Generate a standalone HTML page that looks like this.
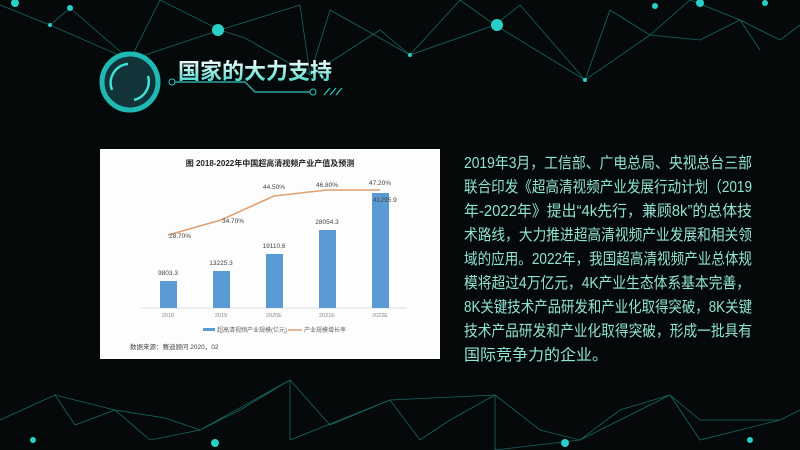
<!DOCTYPE html>
<html><head><meta charset="utf-8"><style>
html,body{margin:0;padding:0;width:800px;height:450px;overflow:hidden;background:#050808;}
</style></head><body>
<svg width="800" height="450" style="position:absolute;left:0;top:0" xmlns="http://www.w3.org/2000/svg">
<defs><linearGradient id="g" x1="0" y1="0" x2="0" y2="1"><stop offset="0" stop-color="#ffffff"/><stop offset="1" stop-color="#3fd6c8"/></linearGradient></defs>
<rect width="800" height="450" fill="#060909"/>
<g stroke="#1f8f8a" stroke-width="0.8" fill="none" opacity="0.7">
<polyline points="0,5 50,25 70,8 130,60 220,30 245,38 310,75 330,10 410,55 495,25 520,5 585,80 650,35 700,40 740,20 780,40 800,25"/>
<polyline points="50,25 130,60 160,0 220,30 300,5 310,75 380,30 410,55 460,0 495,25 585,80 610,10 650,35 690,0 740,20 760,50"/>
<polyline points="0,420 55,395 75,425 115,410 150,440 200,430 240,410 290,380 330,425 390,400 420,440 450,420 495,395 540,430 580,440 620,410 670,395 700,440 740,430 780,420 800,410"/>
<polyline points="55,395 115,410 165,418 200,430 290,380 290,440 390,400 495,395 495,450 580,440 670,395 700,420 780,420"/>
</g>
<g fill="#2ad0c8"><circle cx="218" cy="30" r="6"/><circle cx="497" cy="25" r="6"/><circle cx="70" cy="8" r="3"/><circle cx="15" cy="3" r="4"/><circle cx="655" cy="6" r="3"/><circle cx="700" cy="3" r="4"/><circle cx="765" cy="3" r="3"/><circle cx="215" cy="443" r="4"/><circle cx="565" cy="443" r="4"/><circle cx="33" cy="440" r="3"/><circle cx="750" cy="440" r="3"/><circle cx="50" cy="25" r="2"/><circle cx="130" cy="60" r="2"/><circle cx="585" cy="80" r="2"/><circle cx="410" cy="55" r="2"/></g>
<circle cx="130" cy="82" r="28" fill="#123338" stroke="#1fb8b3" stroke-width="5"/>
<path d="M112,90 A19,19 0 0 1 128,64" stroke="#3fe0d6" stroke-width="2.5" fill="none"/>
<path d="M148,76 A19,19 0 0 1 134,100" stroke="#3fe0d6" stroke-width="2.5" fill="none"/>
<text x="178" y="79" font-family="Liberation Sans,Noto Sans CJK SC,sans-serif" font-weight="bold" font-size="22" fill="url(#g)">国家的大力支持</text>
<polyline points="175,82 245,82 255,92 310,92" stroke="#2fc8c0" stroke-width="1.2" fill="none"/>
<circle cx="172" cy="82" r="3" fill="none" stroke="#2fc8c0"/><circle cx="313" cy="92" r="3" fill="none" stroke="#2fc8c0"/>
<g stroke="#2fc8c0" stroke-width="1.2"><line x1="324" y1="95" x2="330" y2="88"/><line x1="330" y1="95" x2="336" y2="88"/><line x1="336" y1="95" x2="342" y2="88"/></g>
<rect x="100" y="149" width="340" height="210" fill="#fdfdfd"/>
<g font-family="Liberation Sans,Noto Sans CJK SC,sans-serif">
<text x="270" y="166" font-size="8" font-weight="bold" text-anchor="middle" fill="#222">图 2018-2022年中国超高清视频产业产值及预测</text>
<line x1="140" y1="308" x2="407" y2="308" stroke="#ddd"/>
<g fill="#5b9bd5"><rect x="160" y="281" width="17" height="27"/><rect x="213" y="271" width="17" height="37"/><rect x="266" y="254" width="17" height="54"/><rect x="319" y="230" width="17" height="78"/><rect x="372" y="193" width="17" height="115"/></g>
<polyline points="168,235 221,220 274,196 327,190 380,190" stroke="#e0a070" stroke-width="1.6" fill="none"/>
<g font-size="6.5" fill="#444" text-anchor="middle"><text x="168" y="275">9803.3</text><text x="221" y="265">13225.3</text><text x="274" y="248">19110.6</text><text x="327" y="224">28054.3</text><text x="385" y="202">41295.9</text>
<text x="180" y="238">28.70%</text><text x="233" y="223">34.70%</text><text x="274" y="189">44.50%</text><text x="327" y="187">46.80%</text><text x="380" y="185">47.20%</text>
<g font-size="5.5" fill="#888"><text x="168" y="317">2018</text><text x="221" y="317">2019</text><text x="274" y="317">2020E</text><text x="327" y="317">2021E</text><text x="380" y="317">2022E</text></g></g>
<rect x="203" y="328" width="12" height="3" fill="#5b9bd5"/><text x="217" y="332" font-size="6" fill="#666">超高清视频产业规模(亿元)</text>
<line x1="288" y1="330" x2="302" y2="330" stroke="#e0a070" stroke-width="1.5"/><text x="304" y="332" font-size="6" fill="#666">产业规模增长率</text>
<text x="130" y="349" font-size="6.5" fill="#444">数据来源：赛迪顾问 2020，02</text>
</g>
<g font-family="Liberation Sans,Noto Sans CJK SC,sans-serif" font-size="15.5" fill="#8fe3d4" lengthAdjust="spacingAndGlyphs">
<text x="464" y="168" textLength="288" lengthAdjust="spacingAndGlyphs">2019年3月，工信部、广电总局、央视总台三部</text>
<text x="464" y="192" textLength="288" lengthAdjust="spacingAndGlyphs">联合印发《超高清视频产业发展行动计划（2019</text>
<text x="464" y="216" textLength="288" lengthAdjust="spacingAndGlyphs">年-2022年》提出“4k先行，兼顾8k”的总体技</text>
<text x="464" y="240" textLength="288" lengthAdjust="spacingAndGlyphs">术路线，大力推进超高清视频产业发展和相关领</text>
<text x="464" y="264" textLength="288" lengthAdjust="spacingAndGlyphs">域的应用。2022年，我国超高清视频产业总体规</text>
<text x="464" y="288" textLength="286" lengthAdjust="spacingAndGlyphs">模将超过4万亿元，4K产业生态体系基本完善，</text>
<text x="464" y="312" textLength="288" lengthAdjust="spacingAndGlyphs">8K关键技术产品研发和产业化取得突破，8K关键</text>
<text x="464" y="336" textLength="288" lengthAdjust="spacingAndGlyphs">技术产品研发和产业化取得突破，形成一批具有</text>
<text x="464" y="360" textLength="144" lengthAdjust="spacingAndGlyphs">国际竞争力的企业。</text>
</g>
</svg>
</body></html>
